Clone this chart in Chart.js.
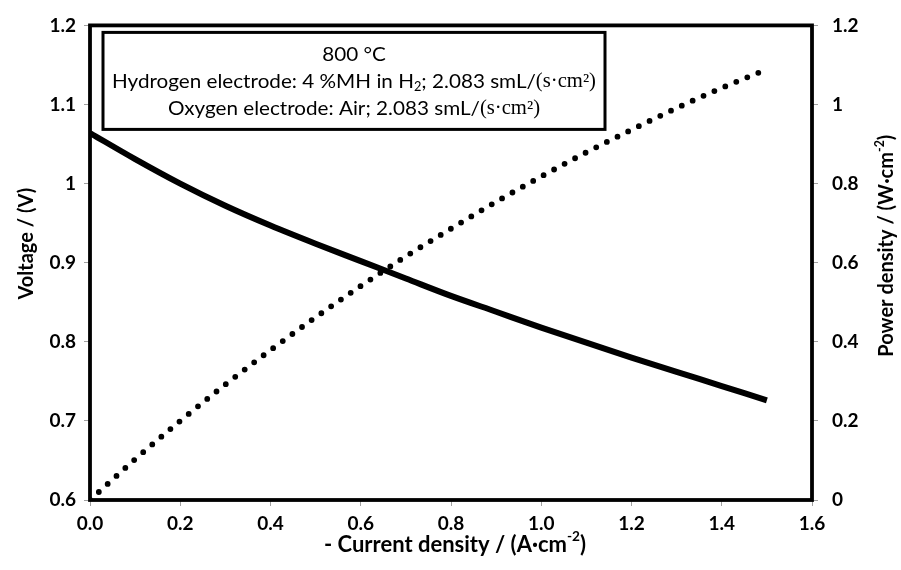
<!DOCTYPE html>
<html lang="en">
<head>
<meta charset="UTF-8">
<title>Voltage and power density</title>
<script src="https://cdn.jsdelivr.net/npm/chart.js"></script>
<style>
  body { margin: 0; background: #fff; }
  #wrap { width: 901px; height: 570px; }
</style>
</head>
<body>
<div id="wrap"><canvas id="ivChart" width="901" height="570"></canvas></div>
<script>
// Current density (A/cm2), shared by both curves
const currentDensity = [0.0, 0.1, 0.2, 0.3, 0.4, 0.5, 0.6, 0.7, 0.8, 0.9, 1.0, 1.1, 1.2, 1.3, 1.4, 1.5];
// Cell voltage (V)
const voltage = [1.064, 1.031, 1.000, 0.972, 0.947, 0.924, 0.902, 0.880, 0.858, 0.838, 0.818, 0.799, 0.780, 0.762, 0.744, 0.726];
// Power density (W/cm2)
const powerDensity = [0.000, 0.103, 0.200, 0.292, 0.379, 0.462, 0.541, 0.616, 0.686, 0.754, 0.818, 0.879, 0.936, 0.991, 1.042, 1.089];

// Tick values and their labels
const xTickValues = [0, 0.2, 0.4, 0.6, 0.8, 1.0, 1.2, 1.4, 1.6];
const xTickLabels = ['0.0', '0.2', '0.4', '0.6', '0.8', '1.0', '1.2', '1.4', '1.6'];
const vTickValues = [0.6, 0.7, 0.8, 0.9, 1.0, 1.1, 1.2];
const vTickLabels = ['0.6', '0.7', '0.8', '0.9', '1', '1.1', '1.2'];
const pTickValues = [0, 0.2, 0.4, 0.6, 0.8, 1.0, 1.2];
const pTickLabels = ['0', '0.2', '0.4', '0.6', '0.8', '1', '1.2'];

const SANS = 'Lato, "Open Sans", sans-serif';
const SERIF = '"Liberation Serif", "DejaVu Serif", serif';

// text made of runs: {t, sub, sup, serif}
function layoutRuns(ctx, runs, size, weight) {
  return runs.map(r => {
    const s = (r.sub || r.sup) ? size * 0.62 : size;
    const font = `${weight} ${s}px ${r.serif ? SERIF : SANS}`;
    ctx.font = font;
    const dy = r.sub ? size * 0.28 : (r.sup ? -size * 0.36 : 0);
    return { t: r.t, font, dy, w: ctx.measureText(r.t).width };
  });
}

function runsWidth(parts) {
  return parts.reduce((s, p) => s + p.w, 0);
}

function drawRuns(ctx, runs, cx, cy, size, weight, angle, sx) {
  const parts = layoutRuns(ctx, runs, size, weight);
  const total = runsWidth(parts);
  ctx.save();
  ctx.translate(cx, cy);
  ctx.rotate(angle || 0);
  ctx.scale(sx || 1, 1);
  ctx.textAlign = 'left';
  ctx.textBaseline = 'middle';
  ctx.fillStyle = '#000';
  let x = -total / 2;
  for (const p of parts) {
    ctx.font = p.font;
    ctx.fillText(p.t, x, p.dy);
    x += p.w;
  }
  ctx.restore();
}

const noteLines = [
  [{ t: '800 °C' }],
  [{ t: 'Hydrogen electrode: 4 %MH in H' }, { t: '2', sub: true }, { t: '; 2.083 smL/' }, { t: '(s·cm²)', serif: true }],
  [{ t: 'Oxygen electrode: Air; 2.083 smL/' }, { t: '(s·cm²)', serif: true }]
];

const frameAndText = {
  id: 'frameAndText',
  afterDatasetsDraw(chart) {
    const { ctx, chartArea: a } = chart;
    ctx.save();

    // plot frame
    ctx.strokeStyle = '#000';
    ctx.lineWidth = 3.8;
    ctx.strokeRect(a.left, a.top, a.right - a.left, a.bottom - a.top);

    // conditions box
    const bx = a.left + 13, by = a.top + 7, bw = 502, bh = 97;
    ctx.fillStyle = '#fff';
    ctx.fillRect(bx, by, bw, bh);
    ctx.lineWidth = 3;
    ctx.strokeRect(bx, by, bw, bh);

    const noteSize = 20;
    const widest = runsWidth(layoutRuns(ctx, noteLines[1], noteSize, 'normal'));
    const squeeze = 484 / widest;
    noteLines.forEach((line, i) => {
      drawRuns(ctx, line, bx + bw / 2, by + 22 + i * 27, noteSize, 'normal', 0, squeeze);
    });

    // axis titles
    const midY = (a.top + a.bottom) / 2 - 19;
    drawRuns(ctx, [{ t: 'Voltage / (V)' }], 27, midY, 20, 'bold', -Math.PI / 2, 1);
    drawRuns(ctx, [{ t: 'Power density / (W·cm' }, { t: '-2', sup: true }, { t: ')' }],
      887, midY + 2, 20, 'bold', -Math.PI / 2, 1);
    drawRuns(ctx, [{ t: '- Current density / (A·cm' }, { t: '-2', sup: true }, { t: ')' }],
      (a.left + a.right) / 2 + 4, 545, 22, 'bold', 0, 1);

    ctx.restore();
  }
};

const tickFont = { family: SANS, weight: 'bold', size: 19 };
const tickGrid = { drawOnChartArea: false, drawTicks: true, tickLength: 6, color: '#a0a0a0', lineWidth: 1 };

new Chart(document.getElementById('ivChart').getContext('2d'), {
  type: 'line',
  data: {
    datasets: [
      {
        label: 'Voltage',
        data: currentDensity.map((x, i) => ({ x, y: voltage[i] })),
        yAxisID: 'y',
        borderColor: '#000',
        borderWidth: 6,
        pointRadius: 0,
        cubicInterpolationMode: 'monotone',
        fill: false
      },
      {
        label: 'Power density',
        data: currentDensity.map((x, i) => ({ x, y: powerDensity[i] })),
        yAxisID: 'y1',
        borderColor: '#000',
        borderWidth: 5.8,
        borderDash: [0, 11.9],
        borderCapStyle: 'round',
        pointRadius: 0,
        cubicInterpolationMode: 'monotone',
        clip: 0,
        fill: false
      }
    ]
  },
  options: {
    responsive: false,
    animation: false,
    devicePixelRatio: 1,
    layout: { padding: { top: 15, right: 0, bottom: 0, left: 0 } },
    plugins: { legend: { display: false }, tooltip: { enabled: false } },
    scales: {
      x: {
        type: 'linear',
        position: 'bottom',
        min: 0,
        max: 1.6,
        afterBuildTicks: s => { s.ticks = xTickValues.map(v => ({ value: v })); },
        afterFit: s => { s.height = 70; },
        ticks: { font: tickFont, color: '#000', padding: 6, maxRotation: 0,
          callback: (v, i) => xTickLabels[i] },
        grid: tickGrid,
        border: { display: false }
      },
      y: {
        position: 'left',
        min: 0.6,
        max: 1.2,
        afterBuildTicks: s => { s.ticks = vTickValues.map(v => ({ value: v })); },
        afterFit: s => { s.width = 90; },
        ticks: { font: tickFont, color: '#000', padding: 8,
          callback: (v, i) => vTickLabels[i] },
        grid: tickGrid,
        border: { display: false }
      },
      y1: {
        position: 'right',
        min: 0,
        max: 1.2,
        afterBuildTicks: s => { s.ticks = pTickValues.map(v => ({ value: v })); },
        afterFit: s => { s.width = 89; },
        ticks: { font: tickFont, color: '#000', padding: 14,
          callback: (v, i) => pTickLabels[i] },
        grid: tickGrid,
        border: { display: false }
      }
    }
  },
  plugins: [frameAndText]
});
</script>
</body>
</html>
